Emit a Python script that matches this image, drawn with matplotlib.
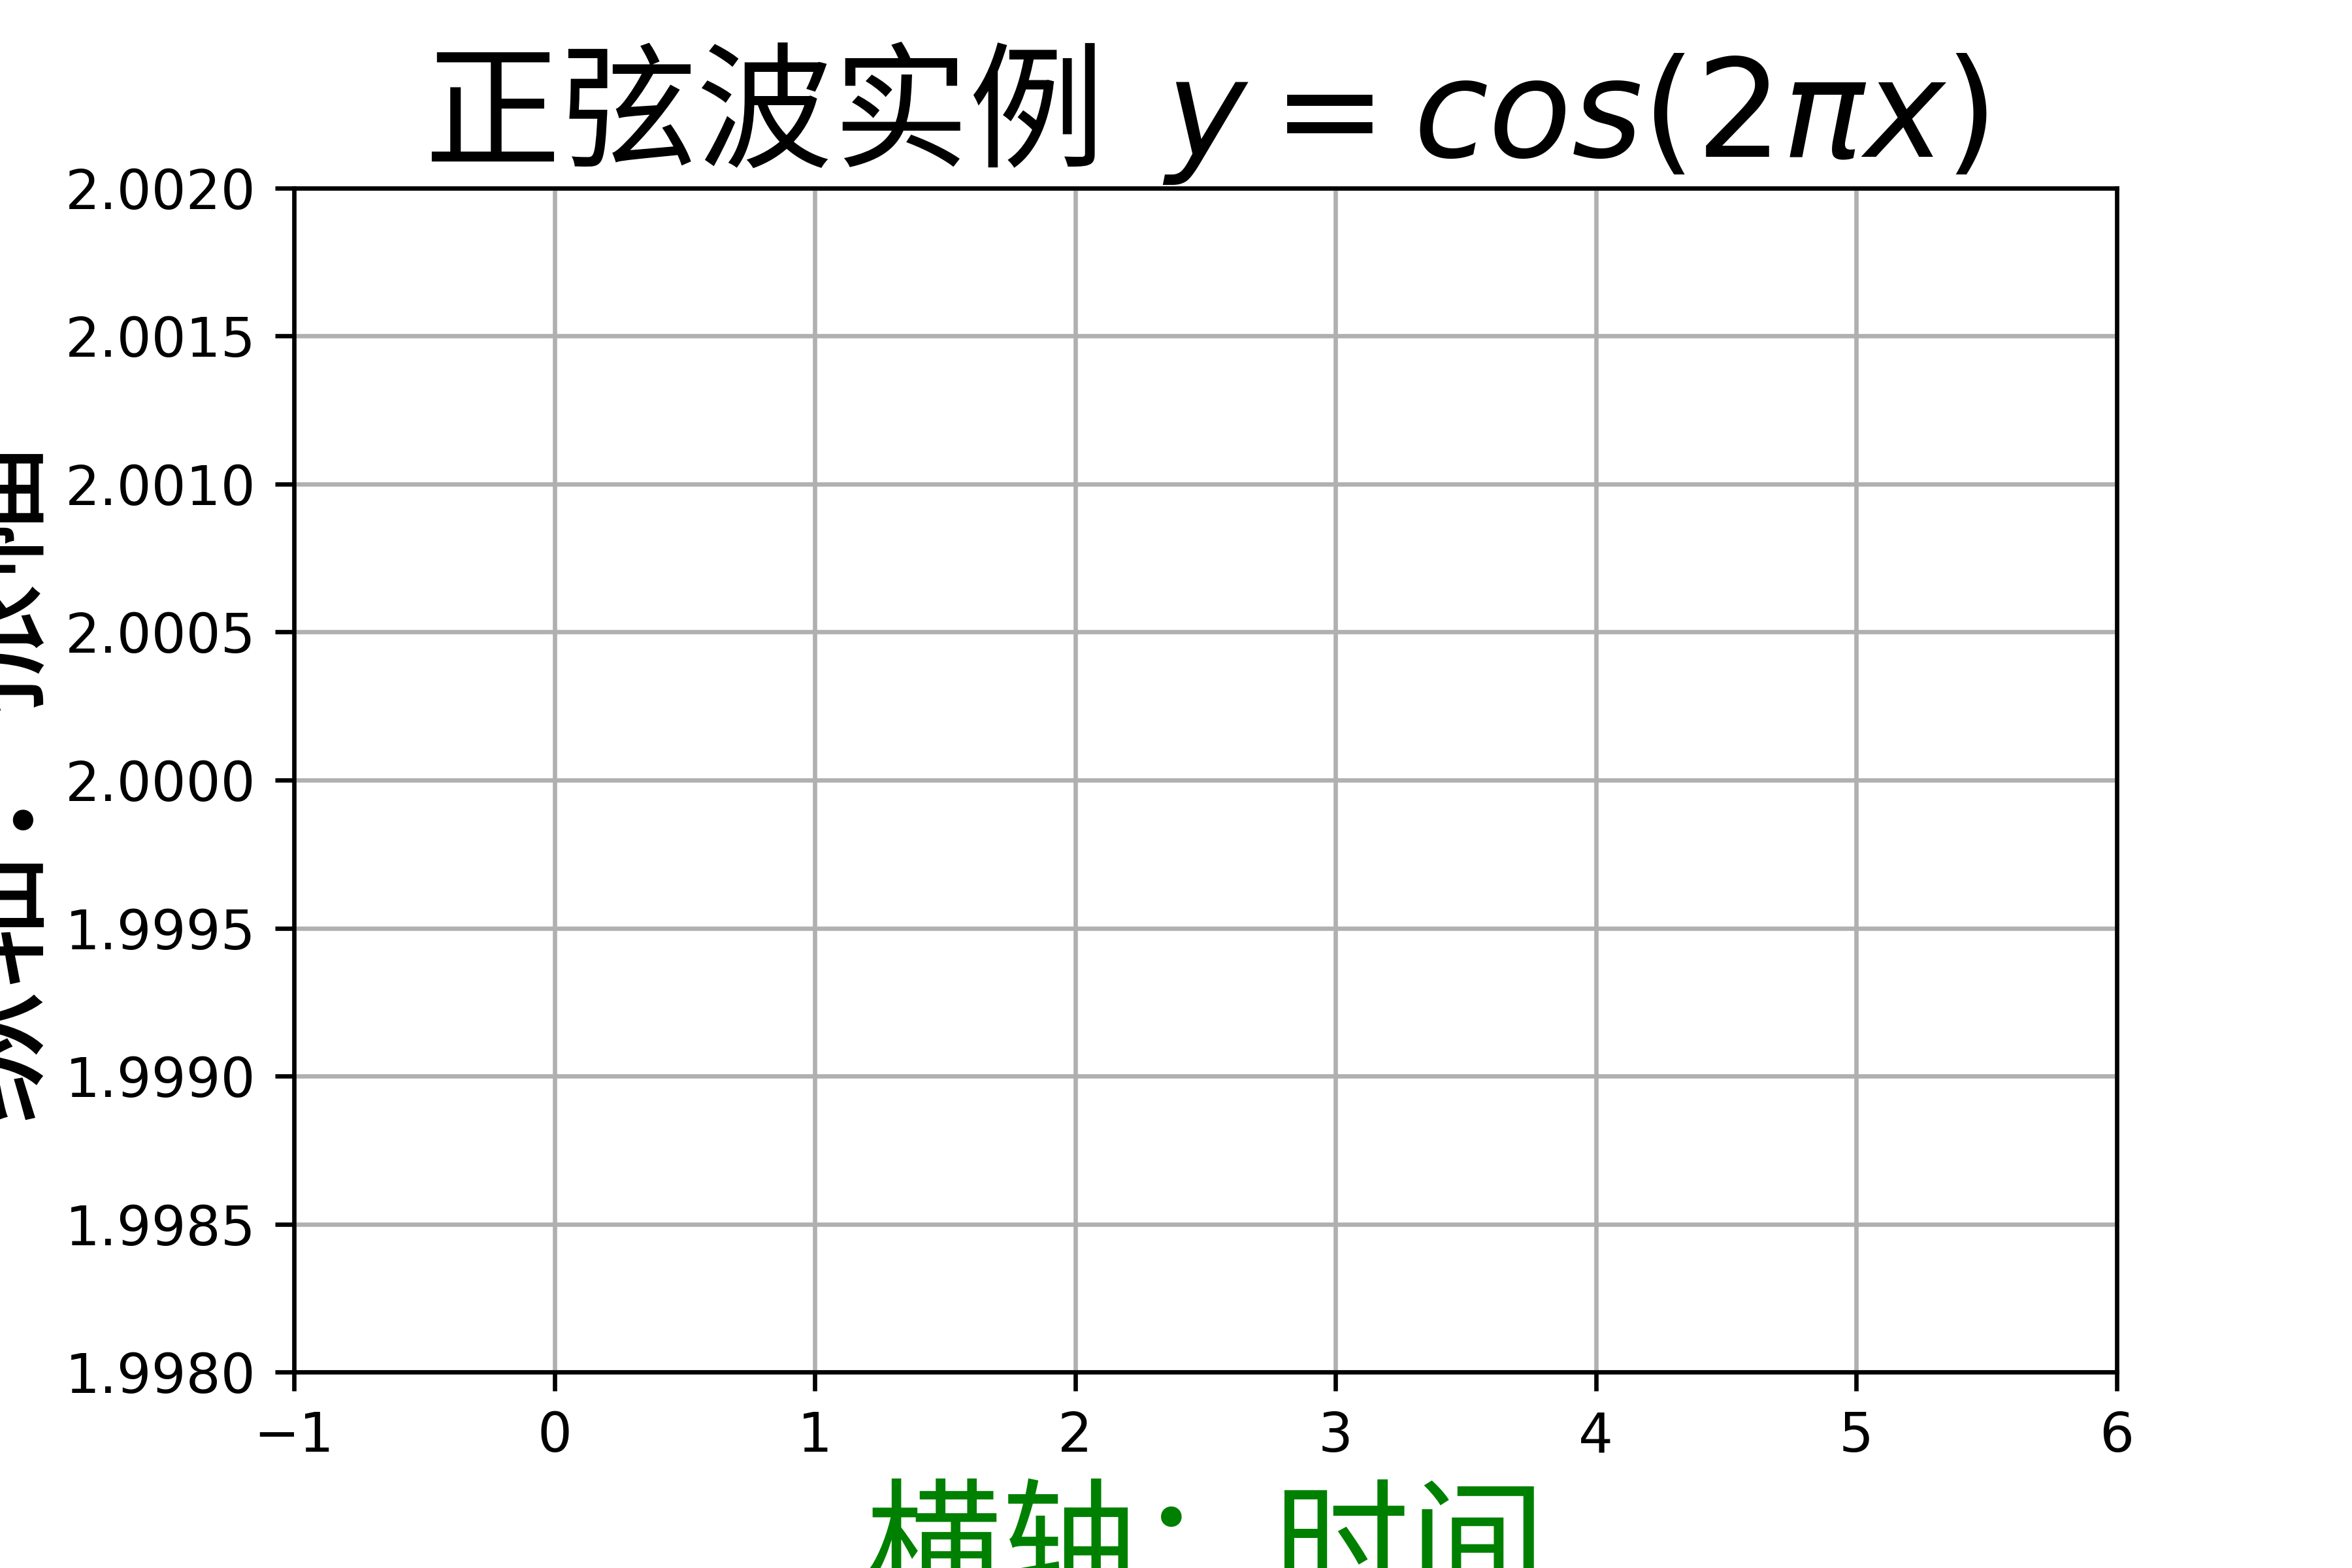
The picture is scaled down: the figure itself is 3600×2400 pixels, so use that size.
import matplotlib
matplotlib.use("Agg")
import matplotlib.pyplot as plt

# ---------- Data / axis setup ----------
title_text = "正弦波实例  $y=cos(2\\pi x)$"
xlabel_text = "横轴：时间"
ylabel_text = "纵轴：振幅"
x_limits = [-1, 6]
y_limits = [1.998, 2.002]
x_ticks = [-1, 0, 1, 2, 3, 4, 5, 6]
y_ticks = [1.998, 1.9985, 1.999, 1.9995, 2.0, 2.0005, 2.001, 2.0015, 2.002]

CJK = ["Noto Sans CJK SC", "DejaVu Sans"]

fig = plt.figure(figsize=(6, 4), dpi=600)
ax = fig.add_axes([0.125, 0.125, 0.775, 0.755])

ax.set_xlim(x_limits)
ax.set_ylim(y_limits)
ax.set_xticks(x_ticks)
ax.set_yticks(y_ticks)
ax.set_yticklabels([f"{v:.4f}" for v in y_ticks])
ax.grid(True)

ax.set_title(title_text, fontsize=25, family=CJK, pad=2)
ax.set_xlabel(xlabel_text, fontsize=25, family=CJK, color="green", labelpad=4)
ax.set_ylabel(ylabel_text, fontsize=25, family=CJK, color="black", labelpad=1)

fig.savefig("out.png", dpi=600)
